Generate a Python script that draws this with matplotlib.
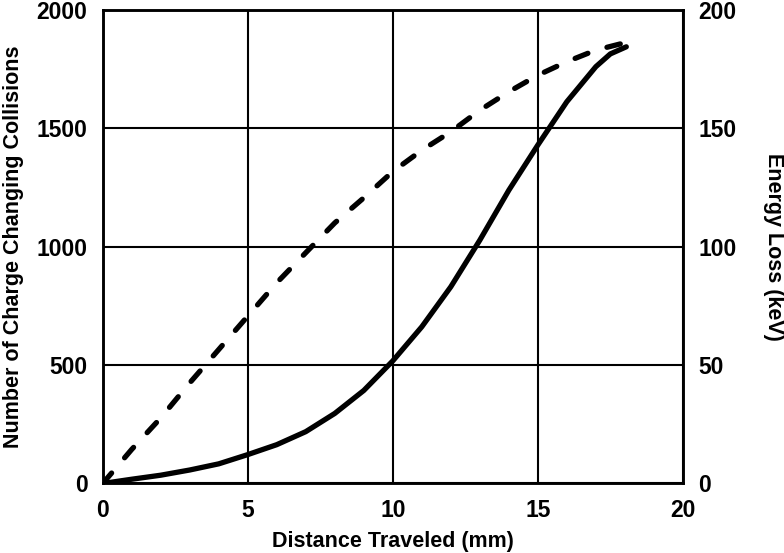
import matplotlib.pyplot as plt

# ---------------- DATA ----------------
# solid curve: charge changing collisions (left axis)
distance_solid = [0, 1, 2, 3, 4, 5, 6, 7, 8, 9, 10, 11, 12, 13, 14, 15, 16, 17, 17.5, 18.05]
collisions = [0, 18, 35, 57, 83, 122, 164, 219, 296, 393, 518, 662, 831, 1028, 1239, 1430,
              1613, 1761, 1815, 1845]

# dashed curve: energy loss in keV (right axis)
distance_dash = [0, 1, 2, 3, 4, 5, 6, 7, 8, 9, 10, 11, 12, 13, 14, 15, 16, 17, 17.9]
energy_loss = [0, 14.4, 27.7, 42.5, 56.6, 70.7, 84.8, 97.5, 110.1, 120.7, 131.8, 140.8,
               148.6, 157.7, 165.5, 172.5, 178.2, 183.1, 185.9]

x_ticks = [0, 5, 10, 15, 20]
left_ticks = [0, 500, 1000, 1500, 2000]
right_ticks = [0, 50, 100, 150, 200]

plt.rcParams['font.family'] = ['Liberation Sans', 'DejaVu Sans']
plt.rcParams['font.weight'] = 'bold'
plt.rcParams['axes.labelweight'] = 'bold'

fig = plt.figure(figsize=(7.84, 5.53), dpi=100)
ax1 = fig.add_axes([0.131, 0.1257, 0.740, 0.856])

ax1.plot(distance_solid, collisions, color='black', linewidth=3.8,
         solid_capstyle='round', solid_joinstyle='round', zorder=3)
ax1.set_xlim(0, 20)
ax1.set_ylim(0, 2000)
ax1.set_xticks(x_ticks)
ax1.set_yticks(left_ticks)
ax1.grid(True, color='black', linewidth=1.5)
ax1.tick_params(length=0, labelsize=16.5, pad=11)
for s in ax1.spines.values():
    s.set_linewidth(1.8)
ax1.set_xlabel("Distance Traveled (mm)", fontsize=15.5, labelpad=7)
ax1.set_ylabel("Number of Charge Changing Collisions", fontsize=15.5, labelpad=9)

# Right axis: energy loss
ax2 = ax1.twinx()
ax2.plot(distance_dash, energy_loss, color='black', linewidth=3.8,
         linestyle=(0, (2.6, 3.8)), dash_capstyle='round', zorder=3)
ax2.set_ylim(0, 200)
ax2.set_yticks(right_ticks)
ax2.tick_params(length=0, labelsize=16.5, pad=11)
for s in ax2.spines.values():
    s.set_linewidth(1.8)
ax2.set_ylabel("Energy Loss (keV)", fontsize=15.5, rotation=270, labelpad=34)

fig.savefig("out.png", dpi=100)
